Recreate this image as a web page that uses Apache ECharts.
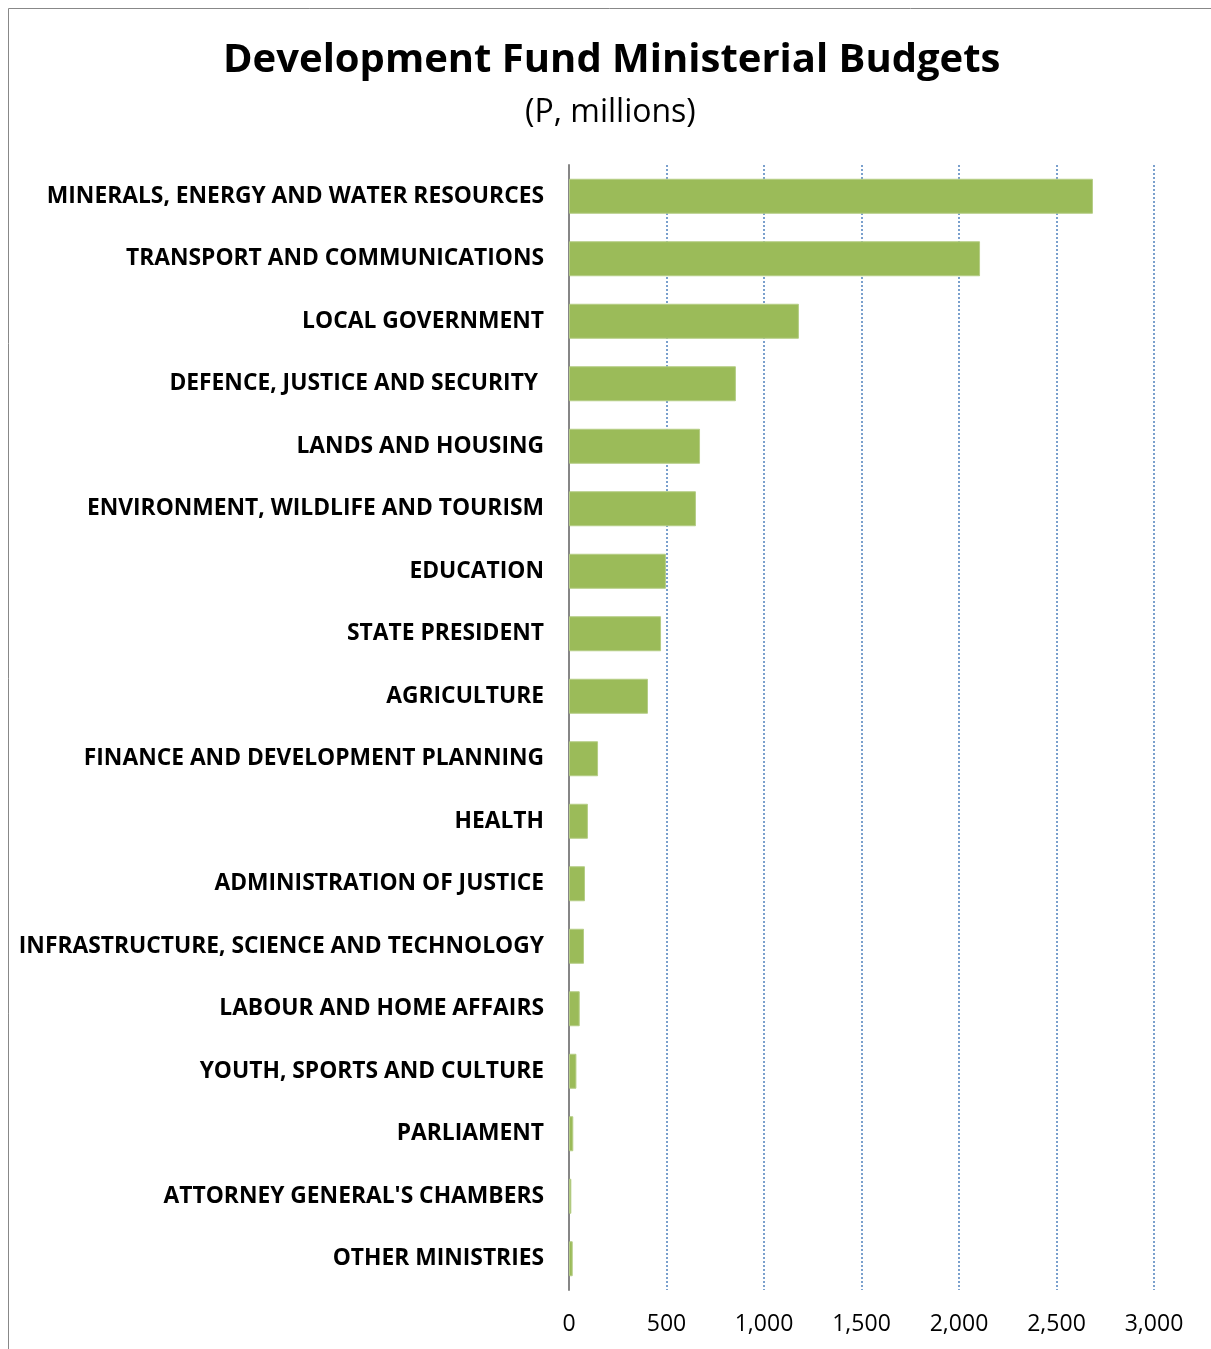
<!DOCTYPE html>
<html>
<head>
<meta charset="utf-8">
<script src="https://cdn.jsdelivr.net/npm/echarts@6/dist/echarts.min.js"></script>
<style>
  html, body { margin: 0; padding: 0; background: #ffffff; }
  #chart { width: 1211px; height: 1349px; }
</style>
</head>
<body>
<div id="chart"></div>
<script>
// Ministries, listed top to bottom
const ministries = [
  "MINERALS, ENERGY AND WATER RESOURCES",
  "TRANSPORT AND COMMUNICATIONS",
  "LOCAL GOVERNMENT",
  "DEFENCE, JUSTICE AND SECURITY ",
  "LANDS AND HOUSING",
  "ENVIRONMENT, WILDLIFE AND TOURISM",
  "EDUCATION",
  "STATE PRESIDENT",
  "AGRICULTURE",
  "FINANCE AND DEVELOPMENT PLANNING",
  "HEALTH",
  "ADMINISTRATION OF JUSTICE",
  "INFRASTRUCTURE, SCIENCE AND TECHNOLOGY",
  "LABOUR AND HOME AFFAIRS",
  "YOUTH, SPORTS AND CULTURE",
  "PARLIAMENT",
  "ATTORNEY GENERAL'S CHAMBERS",
  "OTHER MINISTRIES"
];

// Development fund budget, P millions
const budgets = [2687, 2108, 1179, 856, 672, 651, 497, 472, 405, 149, 97, 82, 77, 55, 38, 22, 12, 19];

// Value axis ticks
const axisMin = 0;
const axisMax = 3000;
const axisStep = 500;

const chart = echarts.init(document.getElementById('chart'), null, { renderer: 'canvas' });

const labelFont = '"Open Sans", "Liberation Sans", sans-serif';

chart.setOption({
  backgroundColor: '#ffffff',
  animation: false,
  title: [
    {
      text: 'Development Fund Ministerial Budgets',
      left: 218,
      top: 36,
      textStyle: { fontFamily: labelFont, fontWeight: 'bold', fontSize: 40, color: '#000000' }
    },
    {
      text: '(P, millions)',
      left: 520,
      top: 92,
      textStyle: { fontFamily: labelFont, fontWeight: 'normal', fontSize: 32, color: '#000000' }
    }
  ],
  graphic: [
    // chart frame
    { type: 'line', shape: { x1: 8.5, y1: 8.5, x2: 1211, y2: 8.5 }, style: { stroke: '#888888', lineWidth: 1 } },
    { type: 'line', shape: { x1: 8.5, y1: 8.5, x2: 8.5, y2: 1349 }, style: { stroke: '#888888', lineWidth: 1 } }
  ],
  grid: { left: 569, right: 57, top: 165, bottom: 59, containLabel: false },
  xAxis: {
    type: 'value',
    min: axisMin,
    max: axisMax,
    interval: axisStep,
    axisLine: { show: false },
    axisTick: { show: false },
    splitLine: { show: true, lineStyle: { color: '#4F81BD', type: [2, 2], width: 1.5 } },
    axisLabel: {
      margin: 23,
      fontFamily: labelFont,
      fontSize: 23,
      color: '#000000',
      formatter: v => v.toLocaleString('en-US')
    }
  },
  yAxis: {
    type: 'category',
    inverse: true,
    data: ministries,
    axisLine: { show: true, lineStyle: { color: '#868686', width: 2 } },
    axisTick: { show: false },
    axisLabel: {
      margin: 25,
      padding: [4, 0, 0, 0],
      fontFamily: labelFont,
      fontWeight: 'bold',
      fontSize: 22.8,
      color: '#000000'
    }
  },
  series: [{
    type: 'bar',
    data: budgets,
    barCategoryGap: '44%',
    itemStyle: { color: '#9BBB59', borderColor: '#B5CD85', borderWidth: 1 }
  }]
});
</script>
</body>
</html>
